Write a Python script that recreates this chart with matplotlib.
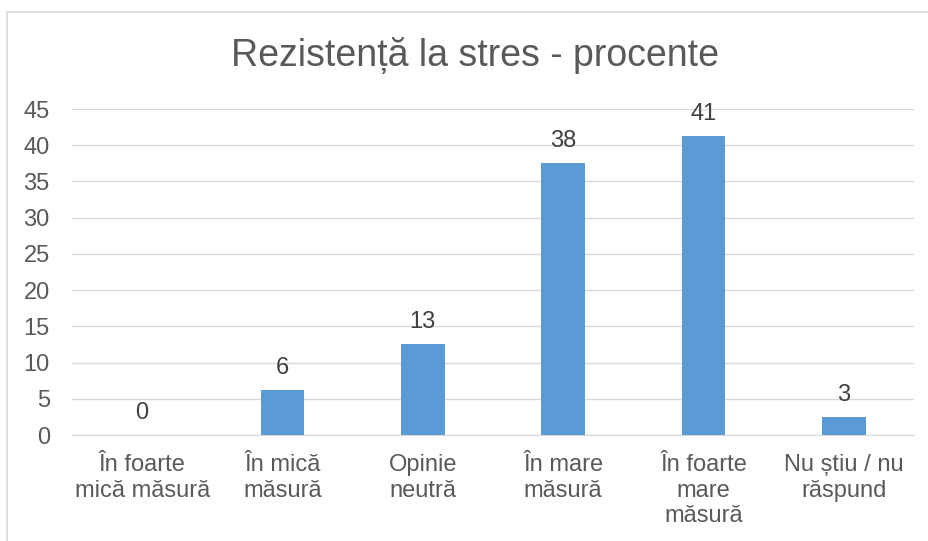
import matplotlib.pyplot as plt
from matplotlib.patches import Rectangle

categories = ["În foarte\nmică măsură", "În mică\nmăsură", "Opinie\nneutră",
              "În mare\nmăsură", "În foarte\nmare\nmăsură", "Nu știu / nu\nrăspund"]
values = [0, 6.25, 12.5, 37.5, 41.25, 2.5]
labels = ["0", "6", "13", "38", "41", "3"]
yticks = [0, 5, 10, 15, 20, 25, 30, 35, 40, 45]

plt.rcParams['font.family'] = ['Liberation Sans', 'DejaVu Sans']
fig = plt.figure(figsize=(9.29, 5.41), dpi=100)
ax = fig.add_axes([72/929, 1-435/541, 842/929, 326/541])

x = list(range(len(categories)))
ax.bar(x, values, width=0.31, color="#5b9bd5", zorder=3)
for xi, v, lab in zip(x, values, labels):
    ax.annotate(lab, (xi, v), xytext=(0, 8), textcoords="offset points",
                ha="center", va="bottom", fontsize=17, color="#404040")

ax.set_xlim(-0.5, len(categories) - 0.5)
ax.set_ylim(0, 45)
ax.set_yticks(yticks)
ax.set_xticks(x)
ax.set_xticklabels(categories, fontsize=17, color="#595959", linespacing=1.2)
ax.tick_params(axis='y', labelsize=17, labelcolor="#595959", length=0, pad=16)
ax.tick_params(axis='x', length=0, pad=14)
ax.grid(axis='y', color="#d9d9d9", linewidth=1, zorder=0)
for s in ["top", "right", "left"]:
    ax.spines[s].set_visible(False)
ax.spines["bottom"].set_color("#d9d9d9")

fig.text(475/929, 1-55/541, "Rezistență la stres - procente", ha="center", va="center",
         fontsize=27, color="#595959")

fig.patches.append(Rectangle((7/929, -0.1), 1.2, 1-12/541+0.1, transform=fig.transFigure,
                             fill=False, edgecolor="#d9d9d9", linewidth=1.2))

fig.savefig("out.png", dpi=100)
